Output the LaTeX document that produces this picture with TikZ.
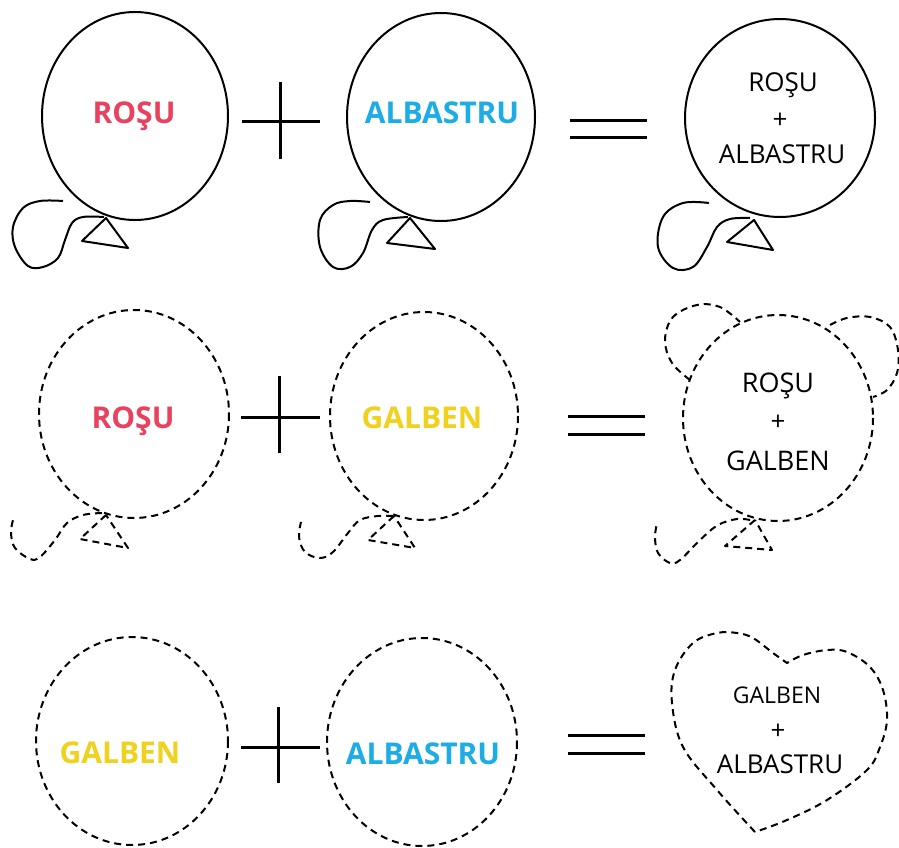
\documentclass[tikz,border=0pt]{standalone}
\usepackage{fontspec}
\newfontfamily\osans{Open Sans}
\definecolor{rosu}{RGB}{233,66,94}
\definecolor{albastru}{RGB}{28,172,230}
\definecolor{galben}{RGB}{240,210,30}
\tikzset{
  outl/.style={line width=2pt, black, line join=round},
  dsh/.style={outl, dash pattern=on 7pt off 5pt},
  sign/.style={line width=3pt, black},
  ctxt/.style={font=\osans\bfseries\fontsize{30}{36}\selectfont, inner sep=0pt, anchor=base},
  mtxt/.style={font=\osans\fontsize{26}{30}\selectfont, inner sep=0pt, anchor=base},
  ptxt/.style={font=\osans\fontsize{26}{30}\selectfont, inner sep=0pt, anchor=center},
}
\begin{document}
\begin{tikzpicture}[x=1pt,y=-1pt]
\useasboundingbox (0,0) rectangle (899,848);
\fill[white] (0,0) rectangle (899,848);

% ---------- Row 1 ----------
\draw[outl] (135,116) ellipse [x radius=93, y radius=104];
\draw[outl] (106,218) -- (82,241) -- (128,248) -- cycle;
\draw[outl] plot[smooth, tension=0.6] coordinates {(104,217) (83,217) (72,223) (65,240) (58,258) (43,267) (28,266) (15,247) (13,227) (23,208) (40,201) (63,201)};
\node[ctxt, text=rosu] (t11) at (134,124) {ROŞU};

\draw[sign] (242,122) -- (320,122);
\draw[sign] (280,82) -- (280,159);

\draw[outl] (441,117) ellipse [x radius=94, y radius=104];
\draw[outl] (410,218) -- (387,243) -- (435,249) -- cycle;
\draw[outl] plot[smooth, tension=0.6] coordinates {(408,217) (383,220) (372,230) (363,253) (350,267) (333,267) (320,247) (320,220) (333,205) (350,201) (370,202)};
\node[ctxt, text=albastru] (t12) at (442,124) {ALBASTRU};

\draw[sign] (570,121) -- (647,121);
\draw[sign] (570,138) -- (647,138);

\draw[outl] (780,118) ellipse [x radius=95, y radius=99];
\draw[outl] (754,220) -- (727,242) -- (773,250) -- cycle;
\draw[outl] plot[smooth, tension=0.6] coordinates {(750,218) (730,219) (717,227) (707,247) (693,267) (673,268) (658,247) (663,217) (683,203) (709,203)};
\node[mtxt] (t13a) at (783,92) {ROŞU};
\node[ptxt] (t13b) at (780,121) {+};
\node[mtxt] (t13c) at (782,164) {ALBASTRU};

% ---------- Row 2 ----------
\draw[dsh] (134,414) ellipse [x radius=95, y radius=104];
\draw[dsh] (106,515) -- (80,539) -- (128,548) -- cycle;
\draw[dsh] plot[smooth, tension=0.6] coordinates {(102,513) (83,515) (67,523) (55,540) (40,557) (30,559) (15,548) (11,533) (13,520)};
\node[ctxt, text=rosu] (t21) at (133,428) {ROŞU};

\draw[sign] (241,417) -- (320,417);
\draw[sign] (279,376) -- (279,453);

\draw[dsh] (424,416) ellipse [x radius=94, y radius=104];
\draw[dsh] (394,516) -- (368,540) -- (415,548) -- cycle;
\draw[dsh] plot[smooth, tension=0.6] coordinates {(393,516) (378,516) (360,520) (348,533) (333,552) (320,558) (305,552) (299,537) (301,522)};
\node[ctxt, text=galben] (t22) at (422,428) {GALBEN};

\draw[sign] (568,416) -- (645,416);
\draw[sign] (568,434) -- (645,434);

\draw[dsh] (778,418) ellipse [x radius=95, y radius=103];
\draw[dsh] plot[smooth, tension=0.6] coordinates {(690,380) (672,363) (665,340) (673,317) (697,305) (720,307) (740,322)};
\draw[dsh] plot[smooth, tension=0.6] coordinates {(830,325) (847,318) (870,317) (890,327) (898,350) (897,373) (887,390) (873,397)};
\draw[dsh] (755,520) -- (725,546) -- (772,550) -- cycle;
\draw[dsh] plot[smooth, tension=0.6] coordinates {(750,520) (737,519) (718,525) (700,540) (680,560) (670,563) (658,553) (655,537) (657,523)};
\node[mtxt, font=\osans\fontsize{27}{30}\selectfont] (t23a) at (778,392) {ROŞU};
\node[ptxt] (t23b) at (778,423) {+};
\node[mtxt, font=\osans\fontsize{27}{30}\selectfont] (t23c) at (778,470) {GALBEN};

% ---------- Row 3 ----------
\draw[dsh] (132,741) ellipse [x radius=96, y radius=104];
\node[ctxt, text=galben] (t31) at (120,763) {GALBEN};

\draw[sign] (241,747) -- (320,747);
\draw[sign] (278,707) -- (278,783);

\draw[dsh] (422,742) ellipse [x radius=95, y radius=104];
\node[ctxt, text=albastru] (t32) at (423,764) {ALBASTRU};

\draw[sign] (568,735) -- (645,735);
\draw[sign] (568,753) -- (645,753);

\draw[dsh] plot[smooth, tension=0.6] coordinates {(755,832) (717,790) (683,747) (672,703) (675,670) (693,643) (717,633) (737,633) (753,638) (773,653) (787,663)}
  -- plot[smooth, tension=0.6] coordinates {(787,663) (803,655) (827,650) (847,652) (870,667) (883,690) (887,720) (880,747) (867,770) (827,800) (787,820) (755,832)};
\node[mtxt, font=\osans\fontsize{23}{28}\selectfont] (t33a) at (777,703) {GALBEN};
\node[ptxt] (t33b) at (778,732) {+};
\node[mtxt] (t33c) at (780,773) {ALBASTRU};
\end{tikzpicture}
\end{document}
